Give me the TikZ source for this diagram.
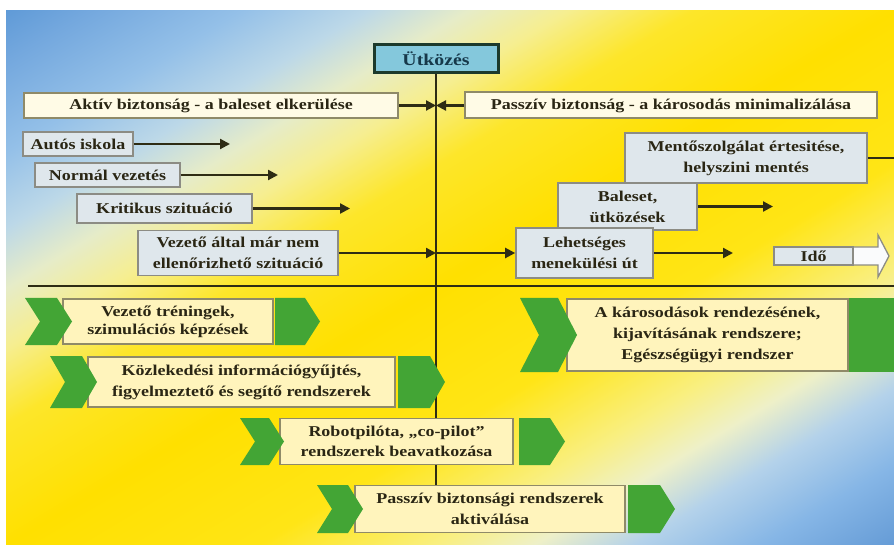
\documentclass[tikz,border=0pt]{standalone}
\usepackage{fontspec}
\setmainfont{Liberation Serif}[FakeStretch=1.2]
\usetikzlibrary{arrows.meta}
\definecolor{s25}{HTML}{5592D0}
\definecolor{s32}{HTML}{6198D4}
\definecolor{s35}{HTML}{86B6E6}
\definecolor{s375}{HTML}{B4D2EA}
\definecolor{s395}{HTML}{EEF0C8}
\definecolor{s415}{HTML}{F9EF80}
\definecolor{s45}{HTML}{FFE516}
\definecolor{s50}{HTML}{FFE000}
\definecolor{s54}{HTML}{FDE62A}
\definecolor{s565}{HTML}{F6EE90}
\definecolor{s585}{HTML}{E6ECC8}
\definecolor{s605}{HTML}{BCD8E8}
\definecolor{s63}{HTML}{94C0E8}
\definecolor{s66}{HTML}{74A8DE}
\definecolor{s68}{HTML}{5C98D6}
\definecolor{lc}{HTML}{2E2C14}
\definecolor{tc}{HTML}{2A2614}
\definecolor{bfill}{HTML}{DFE7EC}
\definecolor{bdraw}{HTML}{8C8C84}
\definecolor{cfill}{HTML}{FFFBE6}
\definecolor{cdraw}{HTML}{8F8A68}
\definecolor{lfill}{HTML}{FFF4BC}
\definecolor{gr}{HTML}{43A535}
\definecolor{utkfill}{HTML}{84C8DC}
\definecolor{utkdraw}{HTML}{1C3A2C}
\definecolor{utktext}{HTML}{16384A}
\pgfdeclareverticalshading{bgsh}{100bp}{color(0bp)=(s25); color(25bp)=(s25); color(32bp)=(s32); color(35bp)=(s35); color(37.5bp)=(s375); color(39.5bp)=(s395); color(41.5bp)=(s415); color(45bp)=(s45); color(50bp)=(s50); color(54bp)=(s54); color(56.5bp)=(s565); color(58.5bp)=(s585); color(60.5bp)=(s605); color(63bp)=(s63); color(66bp)=(s66); color(68bp)=(s68); color(75bp)=(s25); color(100bp)=(s25)}
\tikzset{
  ln/.style={draw=lc, line width=2.2pt},
  arr/.style={draw=lc, line width=2.2pt, -{Triangle[length=10pt,width=10pt]}},
  bluebox/.style={draw=bdraw, fill=bfill, line width=1.6pt, inner sep=0pt, align=center, text=tc},
  topbox/.style={draw=cdraw, fill=cfill, line width=2pt, inner sep=0pt, align=center, text=tc},
  lowbox/.style={draw=cdraw, fill=lfill, line width=1.4pt, inner sep=0pt, align=center, text=tc},
  grn/.style={fill=gr},
}
\begin{document}
\begin{tikzpicture}[x=1pt,y=-1pt,font=\bfseries\fontsize{15}{21}\selectfont]
\useasboundingbox (0,0) rectangle (894,545);
\fill[white] (0,0) rectangle (894,545);
\begin{scope}
  \clip (6,11) rectangle (894,545);
  \begin{scope}[transform canvas={shift={(450,278)},rotate=31}]
    \shade[shading=bgsh] (-640,-647.2) rectangle (640,647.2);
  \end{scope}
\end{scope}

% top
\node[draw=utkdraw, fill=utkfill, line width=3pt, inner sep=0pt, minimum width=124pt, minimum height=28pt, text=utktext, font=\bfseries\fontsize{16.5}{18}\selectfont] (utk) at (436,59) {Ütközés};
\node[topbox, minimum width=374pt, minimum height=25pt] (aktiv) at (211,105.5) {Aktív biztonság - a baleset elkerülése};
\node[topbox, minimum width=412pt, minimum height=26pt] (passziv) at (671,105.5) {Passzív biztonság - a károsodás minimalizálása};

\coordinate (p4top) at (436,485);
\draw[ln] (utk.south) -- (p4top);
\coordinate (mid) at (utk.south |- aktiv.east);
\draw[arr] (aktiv.east) -- (mid);
\draw[arr] (passziv.west) -- (mid);

\coordinate (hl) at (28,286);
\coordinate (hr) at (894,286);
\draw[ln] (hl) -- (hr);

% left stair
\node[bluebox, minimum width=110pt, minimum height=24pt] (autos) at (78,144) {Autós iskola};
\node[bluebox, minimum width=145pt, minimum height=24pt] (normal) at (107.5,175) {Normál vezetés};
\node[bluebox, minimum width=175pt, minimum height=29pt] (krit) at (164.5,208.5) {Kritikus szituáció};
\node[bluebox, minimum width=200pt, minimum height=45pt] (vez) at (238,253) {Vezető által már nem\\ellenőrizhető szituáció};
\coordinate (e1) at (230,144);
\coordinate (e2) at (278,175);
\coordinate (e3) at (350,208.5);
\draw[arr] (autos.east) -- (e1);
\draw[arr] (normal.east) -- (e2);
\draw[arr] (krit.east) -- (e3);

% right stair
\node[bluebox, minimum width=242pt, minimum height=50pt] (ment) at (746,158) {Mentőszolgálat értesitése,\\helyszini mentés};
\node[bluebox, minimum width=139pt, minimum height=47pt] (bal) at (627.5,206.5) {Baleset,\\ütközések};
\node[bluebox, minimum width=137pt, minimum height=50pt] (leh) at (584.5,253) {Lehetséges\\menekülési út};
\coordinate (vc) at (vez.east -| utk.south);
\draw[arr] (vez.east) -- (vc);
\draw[arr] (vc) -- (leh.west);
\coordinate (e4) at (733,253);
\coordinate (e5) at (773,206.5);
\coordinate (e6) at (894,158);
\draw[arr] (leh.east) -- (e4);
\draw[arr] (bal.east) -- (e5);
\draw[ln] (ment.east) -- (e6);

% Ido arrow
\filldraw[fill=white!85!bfill, draw=bdraw, line width=1.3pt] (774,247) -- (878,247) -- (878,235) -- (889,256) -- (878,277) -- (878,265) -- (774,265) -- cycle;
\node[bluebox, line width=1.3pt, minimum width=79pt, minimum height=18pt] (ido) at (813.5,256) {Idő};

% lower rows
\node[lowbox, minimum width=210pt, minimum height=45pt, font=\bfseries\fontsize{15}{18}\selectfont] (r1) at (168,321.5) {Vezető tréningek,\\szimulációs képzések};
\fill[grn] (25,298) -- (57,298) -- (72,321.5) -- (57,345) -- (25,345) -- (40,321.5) -- cycle;
\fill[grn] (275,298) -- (305,298) -- (320,321.5) -- (305,345) -- (275,345) -- cycle;

\node[lowbox, minimum width=307pt, minimum height=50pt, font=\bfseries\fontsize{15}{21}\selectfont] (r2) at (241.5,382) {Közlekedési információgyűjtés,\\figyelmeztető és segítő rendszerek};
\fill[grn] (50,356) -- (82,356) -- (97,382) -- (82,408) -- (50,408) -- (65,382) -- cycle;
\fill[grn] (398,356) -- (430,356) -- (445,382) -- (430,408) -- (398,408) -- cycle;

\node[lowbox, minimum width=233pt, minimum height=46pt, font=\bfseries\fontsize{15}{20}\selectfont] (r3) at (396.5,441.5) {Robotpilóta, „co-pilot”\\rendszerek beavatkozása};
\fill[grn] (240,418) -- (269,418) -- (284,441.5) -- (269,465) -- (240,465) -- (255,441.5) -- cycle;
\fill[grn] (519,418) -- (550,418) -- (565,441.5) -- (550,465) -- (519,465) -- cycle;

\node[lowbox, minimum width=270pt, minimum height=47pt, font=\bfseries\fontsize{15}{21}\selectfont] (r4) at (490,509) {Passzív biztonsági rendszerek\\aktiválása};
\fill[grn] (317,485) -- (348,485) -- (363,509) -- (348,533) -- (317,533) -- (332,509) -- cycle;
\fill[grn] (628,485) -- (660,485) -- (675,509) -- (660,533) -- (628,533) -- cycle;

\node[lowbox, minimum width=281pt, minimum height=72pt, font=\bfseries\fontsize{15}{21}\selectfont] (rr) at (707.5,335) {A károsodások rendezésének,\\kijavításának rendszere;\\Egészségügyi rendszer};
\fill[grn] (520,298) -- (558,298) -- (577,335) -- (558,372) -- (520,372) -- (539,335) -- cycle;
\fill[grn] (849,298) -- (895,298) -- (895,372) -- (849,372) -- cycle;
\end{tikzpicture}
\end{document}
